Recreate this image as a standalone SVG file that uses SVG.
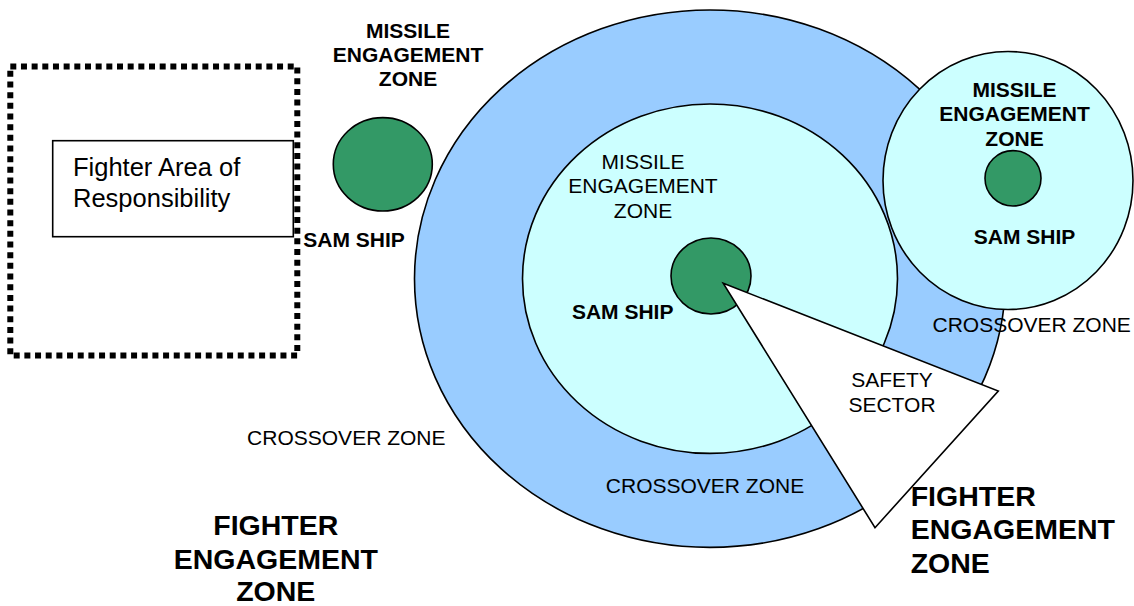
<svg xmlns="http://www.w3.org/2000/svg" width="1134" height="606" viewBox="0 0 1134 606">
<style>
text{font-family:"Liberation Sans",Arial,sans-serif;fill:#000}
.r{font-size:21px}
.b{font-size:21px;font-weight:bold}
.bb{font-size:28.5px;font-weight:bold}
.m{text-anchor:middle}
.ln{stroke:#000;stroke-width:1.6}
.ship{fill:#339966;stroke:#000;stroke-width:1.6}
</style>
<rect width="1134" height="606" fill="#fff"/>
<g id="aor">
<rect x="10.3" y="66.5" width="287" height="289" fill="none" stroke="#000" stroke-width="6" stroke-dasharray="6 4.67"/>
<rect x="52.7" y="140.7" width="240.6" height="96" fill="#fff" class="ln"/>
<text x="73" y="176" font-size="25.5">Fighter Area of</text>
<text x="73" y="207" font-size="25.5">Responsibility</text>
</g>
<g id="crossover-outer">
<ellipse cx="710" cy="278.7" rx="295.5" ry="268.7" fill="#99CCFF" class="ln"/>
</g>
<g id="mez-center">
<ellipse cx="710" cy="278.7" rx="187.5" ry="174.7" fill="#CCFFFF" class="ln"/>
</g>
<g id="mez-right">
<ellipse cx="1008" cy="180.5" rx="125" ry="129" fill="#CCFFFF" class="ln"/>
</g>
<g id="sam-left"><ellipse cx="382.8" cy="164.3" rx="49.5" ry="46.7" class="ship"/></g>
<g id="sam-center"><ellipse cx="711" cy="276" rx="40" ry="38" class="ship"/></g>
<g id="sam-right"><ellipse cx="1013" cy="178.3" rx="28" ry="27.7" class="ship"/></g>
<g id="safety-sector">
<polygon points="723.3,283.3 998.3,391 875,527.7" fill="#fff" class="ln" stroke-linejoin="miter"/>
<text class="r m" x="892" y="386.7">SAFETY</text>
<text class="r m" x="892" y="411.7">SECTOR</text>
</g>
<g id="labels">
<text class="b m" x="408" y="37.7">MISSILE</text>
<text class="b m" x="408" y="61.7">ENGAGEMENT</text>
<text class="b m" x="408" y="86">ZONE</text>
<text class="b m" x="354" y="246.7">SAM SHIP</text>
<text class="r m" x="643" y="168.6">MISSILE</text>
<text class="r m" x="643" y="192.7">ENGAGEMENT</text>
<text class="r m" x="643" y="217.6">ZONE</text>
<text class="b m" x="622.7" y="318.8">SAM SHIP</text>
<text class="b m" x="1014.5" y="96.7">MISSILE</text>
<text class="b m" x="1014.5" y="121">ENGAGEMENT</text>
<text class="b m" x="1014.5" y="146">ZONE</text>
<text class="b m" x="1024.5" y="244">SAM SHIP</text>
<text class="r m" x="1031.7" y="331.7">CROSSOVER ZONE</text>
<text class="r m" x="705" y="493">CROSSOVER ZONE</text>
<text class="r m" x="346.3" y="445">CROSSOVER ZONE</text>
<text class="bb m" x="275.8" y="535">FIGHTER</text>
<text class="bb m" x="275.8" y="568.5">ENGAGEMENT</text>
<text class="bb m" x="275.8" y="601">ZONE</text>
<text class="bb" x="910.7" y="505.7" font-size="29">FIGHTER</text>
<text class="bb" x="910.7" y="539.3" font-size="29">ENGAGEMENT</text>
<text class="bb" x="910.7" y="572.7" font-size="29">ZONE</text>
</g>
</svg>
